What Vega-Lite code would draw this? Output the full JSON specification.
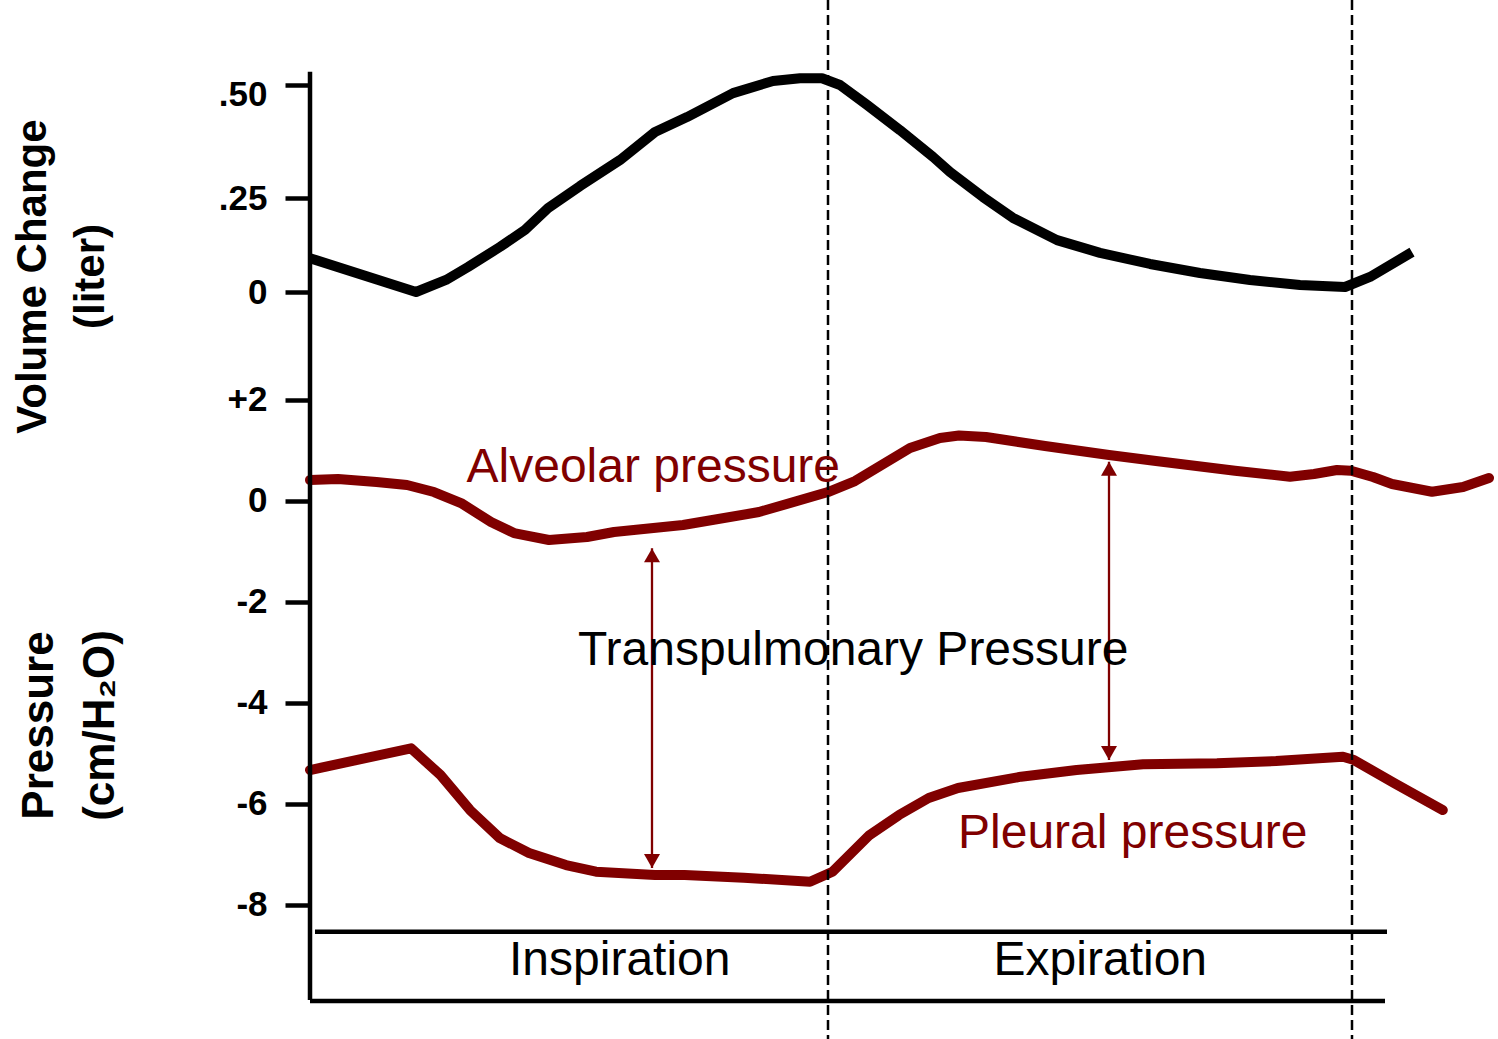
{
  "$schema": "https://vega.github.io/schema/vega-lite/v6.json",
  "width": 1188,
  "height": 1039,
  "autosize": "none",
  "padding": {"left": 310, "top": 0, "right": 0, "bottom": 0},
  "background": "white",
  "config": {"view": {"stroke": null}, "font": "Liberation Sans"},
  "datasets": {
    "volume": [
      {"t": 0, "v": 0.09}, {"t": 0.53, "v": 0}, {"t": 0.68, "v": 0.032}, {"t": 0.79, "v": 0.0665},
      {"t": 0.95, "v": 0.12}, {"t": 1.075, "v": 0.165}, {"t": 1.19, "v": 0.223}, {"t": 1.35, "v": 0.2765},
      {"t": 1.55, "v": 0.334}, {"t": 1.725, "v": 0.396}, {"t": 1.885, "v": 0.429}, {"t": 2.115, "v": 0.482},
      {"t": 2.315, "v": 0.509}, {"t": 2.45, "v": 0.515}, {"t": 2.56, "v": 0.515}, {"t": 2.65, "v": 0.5},
      {"t": 2.785, "v": 0.456}, {"t": 2.95, "v": 0.4}, {"t": 3.115, "v": 0.341}, {"t": 3.2, "v": 0.3075},
      {"t": 3.365, "v": 0.252}, {"t": 3.515, "v": 0.197}, {"t": 3.735, "v": 0.138}, {"t": 3.95, "v": 0.104},
      {"t": 4.2, "v": 0.0745}, {"t": 4.45, "v": 0.0505}, {"t": 4.7, "v": 0.032}, {"t": 4.95, "v": 0.0186},
      {"t": 5.175, "v": 0.0133}, {"t": 5.3, "v": 0.04}, {"t": 5.51, "v": 0.106}
    ],
    "pressure": [
      {"series": "Alveolar", "t": 0, "p": 0.406}, {"series": "Alveolar", "t": 0.14, "p": 0.426},
      {"series": "Alveolar", "t": 0.3325, "p": 0.366}, {"series": "Alveolar", "t": 0.485, "p": 0.307},
      {"series": "Alveolar", "t": 0.62, "p": 0.168}, {"series": "Alveolar", "t": 0.755, "p": -0.05},
      {"series": "Alveolar", "t": 0.905, "p": -0.426}, {"series": "Alveolar", "t": 1.02, "p": -0.644},
      {"series": "Alveolar", "t": 1.195, "p": -0.782}, {"series": "Alveolar", "t": 1.385, "p": -0.723},
      {"series": "Alveolar", "t": 1.52, "p": -0.624}, {"series": "Alveolar", "t": 1.865, "p": -0.485},
      {"series": "Alveolar", "t": 2.245, "p": -0.228}, {"series": "Alveolar", "t": 2.59, "p": 0.168},
      {"series": "Alveolar", "t": 2.725, "p": 0.386}, {"series": "Alveolar", "t": 2.85, "p": 0.683},
      {"series": "Alveolar", "t": 3.0, "p": 1.04}, {"series": "Alveolar", "t": 3.15, "p": 1.238},
      {"series": "Alveolar", "t": 3.245, "p": 1.287}, {"series": "Alveolar", "t": 3.38, "p": 1.257},
      {"series": "Alveolar", "t": 3.675, "p": 1.079}, {"series": "Alveolar", "t": 3.995, "p": 0.901},
      {"series": "Alveolar", "t": 4.23, "p": 0.782}, {"series": "Alveolar", "t": 4.625, "p": 0.59},
      {"series": "Alveolar", "t": 4.9, "p": 0.471}, {"series": "Alveolar", "t": 5.02, "p": 0.525},
      {"series": "Alveolar", "t": 5.135, "p": 0.604}, {"series": "Alveolar", "t": 5.205, "p": 0.59},
      {"series": "Alveolar", "t": 5.315, "p": 0.465}, {"series": "Alveolar", "t": 5.41, "p": 0.327},
      {"series": "Alveolar", "t": 5.61, "p": 0.174}, {"series": "Alveolar", "t": 5.765, "p": 0.267},
      {"series": "Alveolar", "t": 5.895, "p": 0.446},
      {"series": "Pleural", "t": 0, "p": -5.337}, {"series": "Pleural", "t": 0.505, "p": -4.907},
      {"series": "Pleural", "t": 0.6525, "p": -5.436}, {"series": "Pleural", "t": 0.8, "p": -6.129},
      {"series": "Pleural", "t": 0.9485, "p": -6.683}, {"series": "Pleural", "t": 1.095, "p": -6.98},
      {"series": "Pleural", "t": 1.28, "p": -7.218}, {"series": "Pleural", "t": 1.43, "p": -7.35},
      {"series": "Pleural", "t": 1.725, "p": -7.416}, {"series": "Pleural", "t": 1.873, "p": -7.416},
      {"series": "Pleural", "t": 2.169, "p": -7.469}, {"series": "Pleural", "t": 2.5, "p": -7.549},
      {"series": "Pleural", "t": 2.6125, "p": -7.35}, {"series": "Pleural", "t": 2.7975, "p": -6.624},
      {"series": "Pleural", "t": 2.945, "p": -6.228}, {"series": "Pleural", "t": 3.0935, "p": -5.891},
      {"series": "Pleural", "t": 3.24, "p": -5.693}, {"series": "Pleural", "t": 3.555, "p": -5.469},
      {"series": "Pleural", "t": 3.833, "p": -5.337}, {"series": "Pleural", "t": 4.165, "p": -5.224},
      {"series": "Pleural", "t": 4.535, "p": -5.204}, {"series": "Pleural", "t": 4.83, "p": -5.158},
      {"series": "Pleural", "t": 5.165, "p": -5.073}, {"series": "Pleural", "t": 5.22, "p": -5.139},
      {"series": "Pleural", "t": 5.4235, "p": -5.6}, {"series": "Pleural", "t": 5.664, "p": -6.129}
    ],
    "phases": [{"t": 2.59}, {"t": 5.21}],
    "axisline": [{"t": 0, "p1": 8.491, "p2": -9.891}],
    "baselines": [
      {"t1": 0.025, "t2": 5.385, "p": -8.539},
      {"t1": 0, "t2": 5.375, "p": -9.911}
    ],
    "arrows": [
      {"t": 1.71, "top": -0.947, "bottom": -7.277},
      {"t": 3.995, "top": 0.768, "bottom": -5.139}
    ],
    "labels": [
      {"label": "Alveolar pressure", "t": 0.7825, "p": 0.372, "kind": "curve label"},
      {"label": "Pleural pressure", "t": 3.24, "p": -6.887, "kind": "curve label"},
      {"label": "Transpulmonary Pressure", "t": 1.34, "p": -3.257, "kind": "annotation"},
      {"label": "Inspiration", "t": 0.995, "p": -9.396, "kind": "annotation"},
      {"label": "Expiration", "t": 3.418, "p": -9.396, "kind": "annotation"}
    ]
  },
  "layer": [
    {
      "data": {"name": "volume"},
      "mark": {"type": "line", "color": "black", "strokeWidth": 10, "strokeCap": "butt", "strokeJoin": "round"},
      "encoding": {
        "x": {"field": "t", "type": "quantitative", "scale": {"domain": [0, 5.94], "nice": false, "zero": false}, "axis": null},
        "y": {
          "field": "v", "type": "quantitative",
          "scale": {"domain": [0, 0.25, 0.5], "range": [292, 198, 85], "nice": false, "zero": false},
          "axis": {
            "orient": "left", "values": [0, 0.25, 0.5],
            "labelExpr": "datum.value == 0.5 ? '.50' : datum.value == 0.25 ? '.25' : '0'",
            "domain": false, "grid": false, "ticks": true, "tickSize": 25, "tickWidth": 4.5, "tickColor": "black",
            "labelFontSize": 35, "labelFontWeight": "bold", "labelColor": "black", "labelPadding": 18,
            "labelOffset": {"condition": {"test": "datum.value == 0.5", "value": 9}, "value": 0},
            "labelFlush": false, "labelOverlap": false, "labelBound": false,
            "title": ["Volume Change", "(liter)"],
            "titleFontSize": 42, "titleFontWeight": "bold", "titleColor": "black",
            "titleAngle": 270, "titleAlign": "center", "titleBaseline": "middle", "titleLineHeight": 58,
            "titleX": -278, "titleY": 276
          }
        }
      }
    },
    {
      "layer": [
        {
          "data": {"name": "pressure"},
          "mark": {"type": "line", "color": "#800000", "strokeWidth": 10, "strokeCap": "round", "strokeJoin": "round"},
          "encoding": {
            "x": {"field": "t", "type": "quantitative", "scale": {"domain": [0, 5.94], "nice": false, "zero": false}, "axis": null},
            "y": {
              "field": "p", "type": "quantitative",
              "scale": {"domain": [-10.663, 9.911], "nice": false, "zero": false},
              "axis": {
                "orient": "left", "values": [2, 0, -2, -4, -6, -8],
                "labelExpr": "datum.value > 0 ? '+' + datum.value : '' + datum.value",
                "domain": false, "grid": false, "ticks": true, "tickSize": 25, "tickWidth": 4.5, "tickColor": "black",
                "labelFontSize": 35, "labelFontWeight": "bold", "labelColor": "black", "labelPadding": 18,
                "labelFlush": false, "labelOverlap": false, "labelBound": false,
                "title": ["Pressure", "(cm/H₂O)"],
                "titleFontSize": 44, "titleFontWeight": "bold", "titleColor": "black",
                "titleAngle": 270, "titleAlign": "center", "titleBaseline": "middle", "titleLineHeight": 61,
                "titleX": -271, "titleY": 725
              }
            },
            "detail": {"field": "series", "type": "nominal"}
          }
        },
        {
          "data": {"name": "phases"},
          "mark": {"type": "rule", "color": "black", "strokeWidth": 2.5, "strokeDash": [10, 5]},
          "encoding": {
            "x": {"field": "t", "type": "quantitative", "scale": {"domain": [0, 5.94], "nice": false, "zero": false}, "axis": null}
          }
        },
        {
          "data": {"name": "axisline"},
          "mark": {"type": "rule", "color": "black", "strokeWidth": 4.5},
          "encoding": {
            "x": {"field": "t", "type": "quantitative", "scale": {"domain": [0, 5.94], "nice": false, "zero": false}, "axis": null},
            "y": {"field": "p1", "type": "quantitative", "scale": {"domain": [-10.663, 9.911], "nice": false, "zero": false}},
            "y2": {"field": "p2"}
          }
        },
        {
          "data": {"name": "baselines"},
          "mark": {"type": "rule", "color": "black", "strokeWidth": 4.5},
          "encoding": {
            "x": {"field": "t1", "type": "quantitative", "scale": {"domain": [0, 5.94], "nice": false, "zero": false}, "axis": null},
            "x2": {"field": "t2"},
            "y": {"field": "p", "type": "quantitative", "scale": {"domain": [-10.663, 9.911], "nice": false, "zero": false}}
          }
        },
        {
          "data": {"name": "arrows"},
          "mark": {"type": "rule", "color": "#800000", "strokeWidth": 2.3},
          "encoding": {
            "x": {"field": "t", "type": "quantitative", "scale": {"domain": [0, 5.94], "nice": false, "zero": false}, "axis": null},
            "y": {"field": "top", "type": "quantitative", "scale": {"domain": [-10.663, 9.911], "nice": false, "zero": false}},
            "y2": {"field": "bottom"}
          }
        },
        {
          "data": {"name": "arrows"},
          "mark": {"type": "point", "shape": "triangle-up", "filled": true, "size": 256, "color": "#800000", "opacity": 1, "yOffset": 7},
          "encoding": {
            "x": {"field": "t", "type": "quantitative", "scale": {"domain": [0, 5.94], "nice": false, "zero": false}, "axis": null},
            "y": {"field": "top", "type": "quantitative", "scale": {"domain": [-10.663, 9.911], "nice": false, "zero": false}}
          }
        },
        {
          "data": {"name": "arrows"},
          "mark": {"type": "point", "shape": "triangle-down", "filled": true, "size": 256, "color": "#800000", "opacity": 1, "yOffset": -7},
          "encoding": {
            "x": {"field": "t", "type": "quantitative", "scale": {"domain": [0, 5.94], "nice": false, "zero": false}, "axis": null},
            "y": {"field": "bottom", "type": "quantitative", "scale": {"domain": [-10.663, 9.911], "nice": false, "zero": false}}
          }
        },
        {
          "data": {"name": "labels"},
          "mark": {"type": "text", "align": "left", "baseline": "alphabetic", "fontSize": 48, "font": "Liberation Sans"},
          "encoding": {
            "x": {"field": "t", "type": "quantitative", "scale": {"domain": [0, 5.94], "nice": false, "zero": false}, "axis": null},
            "y": {"field": "p", "type": "quantitative", "scale": {"domain": [-10.663, 9.911], "nice": false, "zero": false}},
            "text": {"field": "label"},
            "color": {"field": "kind", "type": "nominal", "scale": {"domain": ["curve label", "annotation"], "range": ["#800000", "#000000"]}, "legend": null}
          }
        }
      ]
    }
  ],
  "resolve": {"scale": {"y": "independent"}, "axis": {"y": "independent"}}
}
